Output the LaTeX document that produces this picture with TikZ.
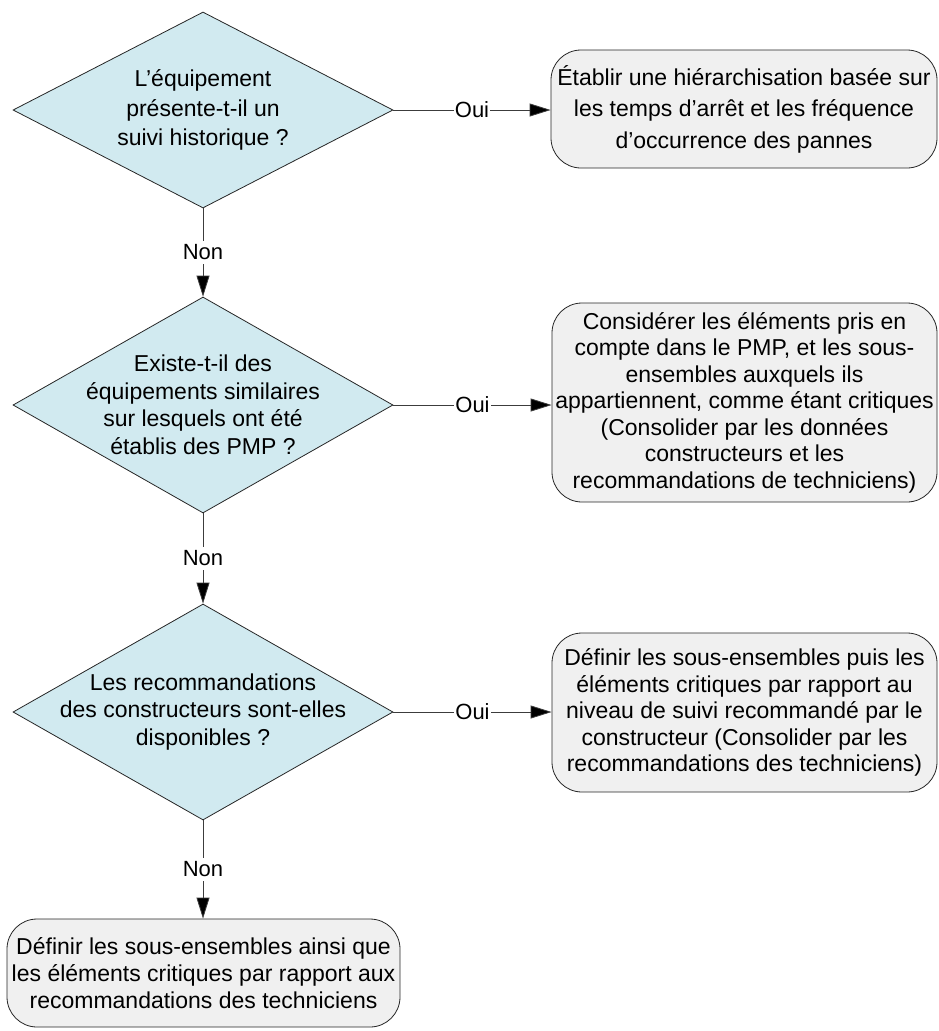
\documentclass[tikz,border=0pt]{standalone}
\usepackage{fontspec}
\setmainfont{Liberation Sans}
\usetikzlibrary{shapes.geometric,arrows.meta}
\definecolor{decisionblue}{RGB}{209,234,240}
\definecolor{boxgray}{RGB}{240,240,240}
\definecolor{linegray}{RGB}{60,60,60}

\begin{document}
\begin{tikzpicture}[x=1pt, y=-1pt,
  decision/.style={diamond, draw=black!85, line width=0.8pt, fill=decisionblue,
    minimum width=380pt, inner sep=0pt},
  dtext/.style={align=center, inner sep=0pt, font=\fontsize{23}{27.5}\selectfont},
  process/.style={rectangle, rounded corners=30pt, draw=black!85, line width=0.8pt,
    fill=boxgray, align=center, inner sep=2pt, font=\fontsize{23}{26.5}\selectfont},
  flow/.style={draw=linegray, line width=0.8pt, -{Triangle[length=21pt,width=13pt,fill=black]}},
  tag/.style={fill=white, inner xsep=1pt, inner ysep=4pt, text=black, font=\fontsize{22}{26}\selectfont}]
\useasboundingbox (0,0) rectangle (939,1031);

% questions
\node[decision, minimum height=196pt,
  label={[dtext, font=\fontsize{23}{29.5}\selectfont]center:{L’équipement\\présente-t-il un\\suivi historique ?}}] (q1) at (203,110) {};
\node[decision, minimum height=216pt,
  label={[dtext]center:{Existe-t-il des\\équipements similaires\\sur lesquels ont été\\établis des PMP ?}}] (q2) at (203,405) {};
\node[decision, minimum height=216pt,
  label={[dtext]center:{Les recommandations\\des constructeurs sont-elles\\disponibles ?}}] (q3) at (203,712) {};

% actions
\node[process, minimum width=386pt, minimum height=118pt, font=\fontsize{23}{31.5}\selectfont] (r1) at (744,109)
  {Établir une hiérarchisation basée sur\\les temps d’arrêt et les fréquence\\d’occurrence des pannes};
\node[process, minimum width=385pt, minimum height=199pt] (r2) at (744.5,402.5)
  {Considérer les éléments pris en\\compte dans le PMP, et les sous-\\ensembles auxquels ils\\appartiennent, comme étant critiques\\(Consolider par les données\\constructeurs et les\\recommandations de techniciens)};
\node[process, minimum width=385pt, minimum height=159pt] (r3) at (744.5,712.5)
  {Définir les sous-ensembles puis les\\éléments critiques par rapport au\\niveau de suivi recommandé par le\\constructeur (Consolider par les\\recommandations des techniciens)};
\node[process, minimum width=393pt, minimum height=108pt, font=\fontsize{23}{27}\selectfont] (r4) at (203.5,973)
  {Définir les sous-ensembles ainsi que\\les éléments critiques par rapport aux\\recommandations des techniciens};

% Oui branches
\draw[flow] (q1.east) -- node[tag] {Oui} (q1.east -| r1.west);
\draw[flow] (q2.east) -- node[tag] {Oui} (q2.east -| r2.west);
\draw[flow] (q3.east) -- node[tag] {Oui} (q3.east -| r3.west);

% Non branches
\draw[flow] (q1.south) -- node[tag] {Non} (q2.north);
\draw[flow] (q2.south) -- node[tag] {Non} (q3.north);
\draw[flow] (q3.south) -- node[tag] {Non} (q3.south |- r4.north);
\end{tikzpicture}
\end{document}
